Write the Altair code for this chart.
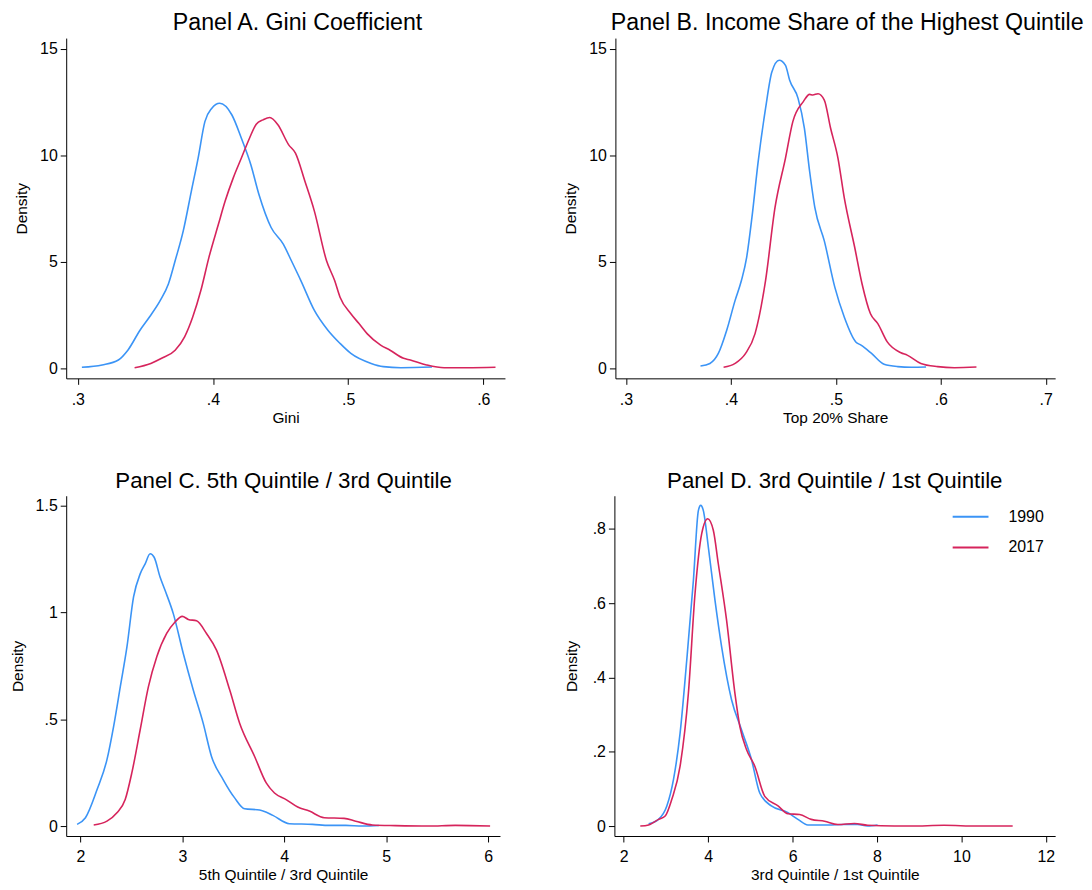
import altair as alt
import pandas as pd

FONT = "Liberation Sans"
YEARS = ["1990", "2017"]
COLORS = ["#3B94F6", "#D6245C"]

# ---------------- Panel A: Gini coefficient ----------------
a90_x = [0.303, 0.318, 0.330, 0.337, 0.346, 0.353, 0.361, 0.367, 0.372, 0.378, 0.384, 0.389,
         0.394, 0.399, 0.405, 0.414, 0.421, 0.428, 0.434, 0.443, 0.452, 0.458, 0.465, 0.475,
         0.485, 0.494, 0.502, 0.517, 0.526, 0.539, 0.562]
a90_y = [0.05, 0.16, 0.39, 0.85, 1.79, 2.41, 3.19, 3.96, 5.05, 6.45, 8.32, 9.87,
         11.58, 12.20, 12.44, 11.89, 10.80, 9.56, 8.16, 6.61, 5.83, 5.05, 4.12, 2.72,
         1.79, 1.17, 0.70, 0.23, 0.08, 0.03, 0.06]
a17_x = [0.342, 0.354, 0.362, 0.372, 0.379, 0.385, 0.391, 0.397, 0.404, 0.409, 0.415, 0.421,
         0.427, 0.432, 0.437, 0.442, 0.448, 0.456, 0.461, 0.468, 0.475, 0.484, 0.490, 0.494,
         0.502, 0.508, 0.514, 0.524, 0.531, 0.541, 0.546, 0.558, 0.571, 0.588, 0.609]
a17_y = [0.03, 0.23, 0.47, 0.85, 1.48, 2.41, 3.65, 5.21, 6.76, 7.85, 8.94, 9.87,
         10.80, 11.46, 11.66, 11.77, 11.43, 10.49, 10.10, 8.78, 7.38, 5.05, 4.12, 3.34,
         2.56, 2.10, 1.63, 1.09, 0.85, 0.47, 0.39, 0.16, 0.03, 0.03, 0.05]

# ---------------- Panel B: top 20% share ----------------
b90_x = [0.371, 0.380, 0.388, 0.396, 0.404, 0.410, 0.415, 0.420, 0.426, 0.433, 0.439, 0.446,
         0.452, 0.456, 0.464, 0.470, 0.475, 0.480, 0.489, 0.499, 0.508, 0.519, 0.524, 0.534,
         0.546, 0.559, 0.572, 0.586]
b90_y = [0.11, 0.23, 0.70, 1.79, 3.19, 4.12, 5.21, 7.07, 9.71, 12.20, 13.91, 14.46,
         14.22, 13.52, 12.67, 11.27, 9.25, 7.54, 5.98, 3.81, 2.41, 1.24, 1.09, 0.70,
         0.19, 0.08, 0.05, 0.06]
b17_x = [0.393, 0.404, 0.414, 0.423, 0.433, 0.442, 0.452, 0.459, 0.469, 0.475, 0.478, 0.483,
         0.489, 0.495, 0.502, 0.508, 0.518, 0.525, 0.533, 0.540, 0.549, 0.562, 0.568, 0.581,
         0.597, 0.613, 0.634]
b17_y = [0.05, 0.23, 0.70, 1.63, 4.12, 7.54, 9.87, 11.58, 12.52, 12.86, 12.83, 12.89,
         12.59, 11.27, 9.87, 8.01, 5.67, 3.96, 2.56, 2.10, 1.24, 0.73, 0.62, 0.23,
         0.08, 0.03, 0.06]

# ---------------- Panel C: Q5 / Q3 ----------------
c90_x = [1.967, 2.049, 2.163, 2.260, 2.325, 2.391, 2.456, 2.521, 2.586, 2.635, 2.684, 2.723,
         2.781, 2.830, 2.911, 3.009, 3.107, 3.204, 3.286, 3.400, 3.513, 3.611, 3.758, 3.888,
         4.050, 4.278, 4.441, 4.604, 4.767, 4.929]
c90_y = [0.008, 0.039, 0.171, 0.311, 0.466, 0.653, 0.839, 1.073, 1.181, 1.228, 1.275, 1.259,
         1.166, 1.104, 0.995, 0.808, 0.637, 0.482, 0.326, 0.218, 0.132, 0.081, 0.075, 0.050,
         0.011, 0.008, 0.003, 0.003, 0.000, 0.003]
c17_x = [2.130, 2.260, 2.358, 2.439, 2.504, 2.586, 2.667, 2.749, 2.846, 2.928, 2.999, 3.058,
         3.139, 3.237, 3.335, 3.465, 3.562, 3.709, 3.823, 3.904, 4.018, 4.132, 4.246, 4.392,
         4.587, 4.701, 4.864, 5.092, 5.417, 5.678, 6.020]
c17_y = [0.005, 0.023, 0.062, 0.124, 0.249, 0.451, 0.653, 0.793, 0.902, 0.956, 0.982, 0.968,
         0.961, 0.902, 0.824, 0.637, 0.482, 0.326, 0.202, 0.155, 0.124, 0.089, 0.070, 0.039,
         0.036, 0.023, 0.005, 0.002, 0.000, 0.003, 0.000]

# ---------------- Panel D: Q3 / Q1 ----------------
d90_x = [2.590, 2.825, 3.022, 3.179, 3.336, 3.494, 3.651, 3.769, 3.824, 3.887, 4.005, 4.162,
         4.319, 4.555, 4.791, 5.027, 5.223, 5.498, 5.892, 6.127, 6.363, 6.835, 7.228, 7.542,
         7.778, 8.014]
d90_y = [0.006, 0.018, 0.054, 0.125, 0.250, 0.447, 0.661, 0.849, 0.863, 0.849, 0.751, 0.608,
         0.483, 0.340, 0.259, 0.179, 0.089, 0.054, 0.036, 0.018, 0.003, 0.003, 0.004, 0.004,
         0.000, 0.003]
d17_x = [2.393, 2.590, 2.825, 2.983, 3.140, 3.336, 3.533, 3.690, 3.848, 3.989, 4.123, 4.241,
         4.437, 4.634, 4.752, 4.909, 5.106, 5.342, 5.656, 5.892, 6.167, 6.442, 6.757, 7.071,
         7.464, 7.778, 8.407, 8.800, 9.587, 10.373, 11.214]
d17_y = [0.000, 0.003, 0.018, 0.027, 0.072, 0.161, 0.358, 0.626, 0.787, 0.827, 0.796, 0.706,
         0.554, 0.358, 0.268, 0.206, 0.161, 0.080, 0.054, 0.033, 0.031, 0.018, 0.013, 0.004,
         0.007, 0.002, 0.000, 0.000, 0.002, 0.000, 0.000]

# ---------------- Axis ticks / labels ----------------
a_xticks = [0.3, 0.4, 0.5, 0.6]
a_xlabels = [".3", ".4", ".5", ".6"]
b_xticks = [0.3, 0.4, 0.5, 0.6, 0.7]
b_xlabels = [".3", ".4", ".5", ".6", ".7"]
ab_yticks = [0, 5, 10, 15]
ab_ylabels = ["0", "5", "10", "15"]
c_xticks = [2, 3, 4, 5, 6]
c_xlabels = ["2", "3", "4", "5", "6"]
c_yticks = [0, 0.5, 1, 1.5]
c_ylabels = ["0", ".5", "1", "1.5"]
d_xticks = [2, 4, 6, 8, 10, 12]
d_xlabels = ["2", "4", "6", "8", "10", "12"]
d_yticks = [0, 0.2, 0.4, 0.6, 0.8]
d_ylabels = ["0", ".2", ".4", ".6", ".8"]


def make_df(x90, y90, x17, y17):
    rows = []
    for i, (x, y) in enumerate(zip(x90, y90)):
        rows.append({"x": x, "y": y, "year": YEARS[0], "i": i})
    for i, (x, y) in enumerate(zip(x17, y17)):
        rows.append({"x": x, "y": y, "year": YEARS[1], "i": i})
    return pd.DataFrame(rows)


def lab_expr(vals, labs):
    parts = [f"datum.value == {v} ? '{l}'" for v, l in zip(vals, labs)]
    return " : ".join(parts) + " : ''"


def panel(df, title, xtitle, xdom, ydom, xt, xl, yt, yl, w, h, dx, tsize,
          ytpad=10, legend=None):
    x_axis = alt.Axis(values=xt, labelExpr=lab_expr(xt, xl), title=xtitle,
                      labelPadding=7, titlePadding=3, labelFlush=False, labelOverlap=False)
    y_axis = alt.Axis(values=yt, labelExpr=lab_expr(yt, yl), title="Density",
                      labelPadding=3, titlePadding=ytpad, labelFlush=False, labelOverlap=False)
    color = alt.Color("year:N", scale=alt.Scale(domain=YEARS, range=COLORS),
                      legend=legend if legend is not None else None)
    return (
        alt.Chart(df)
        .mark_line(strokeWidth=1.6, interpolate="monotone")
        .encode(
            x=alt.X("x:Q", scale=alt.Scale(domain=xdom, nice=False, zero=False), axis=x_axis),
            y=alt.Y("y:Q", scale=alt.Scale(domain=ydom, nice=False, zero=False), axis=y_axis),
            color=color,
            detail="year:N",
            order="i:Q",
        )
        .properties(
            width=w,
            height=h,
            title=alt.TitleParams(title, fontSize=tsize, font=FONT, fontWeight="normal",
                                  color="#000", anchor="middle", frame="group",
                                  baseline="alphabetic", offset=-15, dx=dx),
        )
    )


legend_d = alt.Legend(orient="none", legendX=339, legendY=2, title=None,
                      symbolType="stroke", symbolSize=1296, symbolStrokeWidth=2,
                      labelFontSize=16, labelFont=FONT, labelColor="#000",
                      labelOffset=19, rowPadding=4, padding=0)

pa = panel(make_df(a90_x, a90_y, a17_x, a17_y), "Panel A. Gini Coefficient", "Gini",
           [0.2914, 0.616], [-0.47, 15.5], a_xticks, a_xlabels, ab_yticks, ab_ylabels,
           441, 342, 12, 23.3)
pb = panel(make_df(b90_x, b90_y, b17_x, b17_y), "Panel B. Income Share of the Highest Quintile",
           "Top 20% Share", [0.2899, 0.709], [-0.47, 15.5], b_xticks, b_xlabels,
           ab_yticks, ab_ylabels, 442, 342, 12, 23.3)
pc = panel(make_df(c90_x, c90_y, c17_x, c17_y), "Panel C. 5th Quintile / 3rd Quintile",
           "5th Quintile / 3rd Quintile", [1.86, 6.117], [-0.0466, 1.547], c_xticks, c_xlabels,
           c_yticks, c_ylabels, 436, 342, 0.5, 22.4)
pd_ = panel(make_df(d90_x, d90_y, d17_x, d17_y), "Panel D. 3rd Quintile / 1st Quintile",
            "3rd Quintile / 1st Quintile", [1.78, 12.22], [-0.0268, 0.889], d_xticks, d_xlabels,
            d_yticks, d_ylabels, 443, 342, 0, 22.4, ytpad=13, legend=legend_d)

chart = (
    alt.concat(pa, pb, pc, pd_, columns=2, align="none", spacing={"row": 44, "column": 59})
    .resolve_scale(color="independent")
    .properties(padding={"left": 1.5, "top": 0, "right": 0, "bottom": 0}, background="white")
    .configure_view(stroke=None)
    .configure_axis(
        domainColor="#000", domainWidth=1, tickColor="#000", tickSize=6, tickWidth=1,
        labelFont=FONT, labelFontSize=16, labelColor="#000",
        titleFont=FONT, titleFontSize=15.5, titleFontWeight="normal", titleColor="#000",
        grid=False,
    )
)

chart.save("out.html", embed_options={"renderer": "svg", "actions": False})
